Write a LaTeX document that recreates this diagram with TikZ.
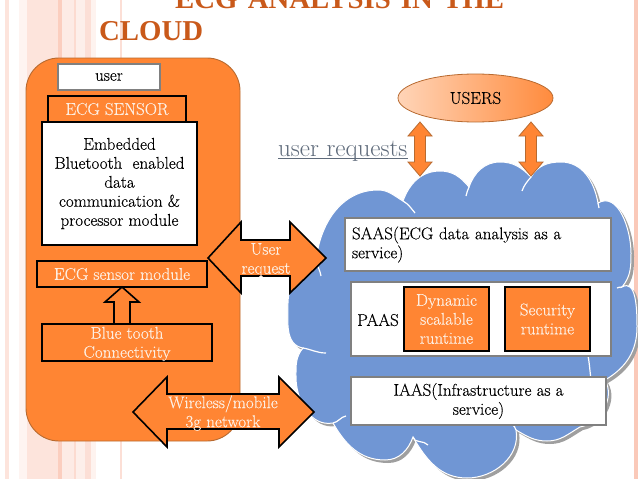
\documentclass[tikz,border=0pt]{standalone}
\usepackage{fontspec}
\setmainfont{Latin Modern Roman}
\newfontfamily\ttlfont{Liberation Serif}
\usetikzlibrary{shapes.geometric}
\definecolor{org}{HTML}{FF8533}
\definecolor{orgedge}{HTML}{B86A30}
\definecolor{cloudblue}{HTML}{7096D4}
\definecolor{cream}{HTML}{FDEFE3}
\definecolor{ttl}{HTML}{C9591A}
\definecolor{reqc}{HTML}{5F6B7B}
\definecolor{graye}{HTML}{808080}
\definecolor{peach}{HTML}{F7A58A}
\newcommand{\fsA}{\fontsize{17}{19}\selectfont\addfontfeature{FakeBold=0.25}}
\tikzset{
 lbl/.style={inner sep=0pt,align=center,font=\fsA},
 box/.style={draw=black,line width=1.6pt,inner sep=0pt,align=center,font=\fsA},
 wbox/.style={box,fill=white,text=black},
 obox/.style={box,fill=org,text=cream},
 gbox/.style={draw=graye,line width=1.3pt,fill=white,inner sep=0pt,font=\fsA},
 arrowshape/.style={draw=black,line width=1.6pt,fill=org,line join=miter},
 userarrow/.style={draw=orgedge,line width=.8pt,fill=org},
 nick/.style={draw=white,line width=1.2pt},
 ttlstyle/.style={anchor=base west,inner sep=0pt,font=\ttlfont\fontsize{28.8}{29}\selectfont\bfseries,text=ttl},
}
\newcommand{\cloudpath}{
 (316,262) to[out=85,in=180] (378,190) to[out=0,in=150] (403,201)
 to[out=70,in=180] (440,171) to[out=0,in=130] (469,187)
 to[out=70,in=180] (500,162) to[out=0,in=135] (531,177)
 to[out=60,in=180] (561,162) to[out=0,in=100] (598,203)
 to[out=30,in=90] (631,253) to[out=-90,in=50] (622,287)
 to[out=30,in=90] (637,327) to[out=-90,in=30] (605,380)
 to[out=-60,in=10] (580,427) to[out=-150,in=0] (547,441) to[out=180,in=-30] (516,430)
 to[out=-80,in=0] (467,478) to[out=180,in=-60] (413,437)
 to[out=-110,in=0] (385,460) to[out=180,in=-60] (333,423)
 to[out=190,in=-90] (296,377) to[out=90,in=-130] (303,348)
 to[out=170,in=-90] (288,303) to[out=90,in=-140] (316,262) -- cycle
}
\begin{document}
\begin{tikzpicture}[x=1pt,y=-1pt]
\useasboundingbox (0,0) rectangle (638,479);
\clip (0,0) rectangle (638,479);
\fill[white] (0,0) rectangle (638,479);
% page stripes
\fill[peach!30] (5,0) rectangle (9,479);
\fill[peach!12] (19,0) rectangle (27,479);
\fill[peach!30] (27,0) rectangle (58,479);
\fill[peach!55] (58,0) rectangle (62,479);
\fill[peach!22] (62,0) rectangle (74,479);
\fill[peach!40] (74,0) rectangle (76,479);
\fill[peach!18] (76,0) rectangle (85,479);
\fill[peach!35] (85,0) rectangle (91,479);
\fill[peach!14] (91,0) rectangle (96,479);
\fill[peach!35] (120,0) rectangle (121.5,479);
\fill[peach!60] (634,0) rectangle (638,479);
% title
\node[ttlstyle] (title1) at (175,9) {\spaceskip=10.2pt ECG ANALYSIS IN THE};
\node[ttlstyle] (title2) at (99,40) {CLOUD};
% left panel
\node[draw=orgedge,line width=.9pt,fill=org,rounded corners=33pt,minimum width=214pt,minimum height=383pt,inner sep=0pt] (panel) at (133,249.5) {};
% cloud
\fill[gray!75,shift={(3,3)}] \cloudpath;
\draw[white,line width=1pt,fill=cloudblue] \cloudpath;
% nicks
\draw[nick] (403,201) to[out=-30,in=130] (415,213);
\draw[nick] (469,187) to[out=-110,in=80] (466,196);
\draw[nick] (531,177) to[out=-130,in=70] (522,191);
\draw[nick] (598,203) to[out=-90,in=90] (599,208);
\draw[nick] (622,287) to[out=-140,in=70] (617,288);
\draw[nick] (303,348) to[out=-10,in=180] (326,353);
\draw[nick] (316,262) to[out=-70,in=100] (321,276);
\draw[nick] (333,423) to[out=10,in=190] (346,416);
\draw[nick] (413,437) to[out=-80,in=130] (428,445);
\draw[nick] (516,430) to[out=90,in=-60] (512,424);
\draw[nick] (587,356) to[out=80,in=-90] (591,377);
% left boxes
\node[gbox,minimum width=102pt,minimum height=26pt] (user) at (109,77) {user};
\node[obox,minimum width=138pt,minimum height=26pt] (sensor) at (117,109) {ECG SENSOR};
\node[wbox,minimum width=155pt,minimum height=123pt] (embedded) at (119.5,183.5) {Embedded\\Bluetooth\ \ enabled\\data\\communication \&\\processor module};
\node[obox,minimum width=170pt,minimum height=26pt] (module) at (122,274) {ECG sensor module};
\node[obox,minimum width=170pt,minimum height=37pt] (bt) at (127,342.5) {};
\node[lbl,text=cream] (bttext) at (127,344) {Blue tooth\\Connectivity};
\coordinate (tipU) at (122,287);
\draw[arrowshape] (tipU) -- (139,302) -- (130,302) -- (130,324) -- (114,324) -- (114,302) -- (105,302) -- cycle;
% cloud boxes
\node[gbox,minimum width=266pt,minimum height=53pt,align=left,text width=252pt] (saas) at (478,244.5) {SAAS(ECG data analysis as a\\service)};
\node[gbox,minimum width=260pt,minimum height=74pt] (paas) at (481,319) {};
\node[lbl,anchor=west] (paastext) at (357,320) {PAAS};
\node[obox,minimum width=85pt,minimum height=64pt] (dyn) at (446.5,319) {Dynamic\\scalable\\runtime};
\node[obox,minimum width=85pt,minimum height=64pt] (sec) at (547.5,319) {Security\\runtime};
\node[gbox,minimum width=255pt,minimum height=48pt,align=center] (iaas) at (478.5,401) {IAAS(Infrastructure as a\\service)};
% user request arrow
\draw[arrowshape] (208,258) -- (241,222) -- (241,240) -- (290,240) -- (290,222) -- (326,258) -- (290,293) -- (290,276) -- (241,276) -- (241,293) -- cycle;
\node[lbl,text=cream] (reqtext) at (266,260) {User\\request};
% wireless arrow
\draw[arrowshape] (133,412) -- (167,377) -- (167,394) -- (279,394) -- (279,377) -- (314,412) -- (279,447) -- (279,429) -- (167,429) -- (167,447) -- cycle;
\node[lbl,text=cream] (wltext) at (223,413) {Wireless/mobile\\3g network};
% users
\node[ellipse,draw=orgedge,line width=.8pt,left color=org!35,middle color=org!45,right color=org!95,minimum width=155pt,minimum height=48pt,inner sep=0pt,font=\fsA,text=black] (users) at (475.5,98) {USERS};
\coordinate (ca) at (420,176);
\coordinate (cb) at (531,176);
\draw[userarrow] (420,122) -- (432,136) -- (425.5,136) -- (425.5,162) -- (432,162) -- (ca) -- (408,162) -- (414.5,162) -- (414.5,136) -- (408,136) -- cycle;
\draw[userarrow] (531,122) -- (543,136) -- (536.5,136) -- (536.5,162) -- (543,162) -- (cb) -- (519,162) -- (525.5,162) -- (525.5,136) -- (519,136) -- cycle;
\node[anchor=base west,inner sep=0pt,font=\fontsize{25}{26}\selectfont,text=reqc] (req) at (278,156) {user requests};
\draw[reqc,line width=1pt] ([yshift=-2.5pt]req.base west) -- ([yshift=-2.5pt]req.base east);
\end{tikzpicture}
\end{document}
